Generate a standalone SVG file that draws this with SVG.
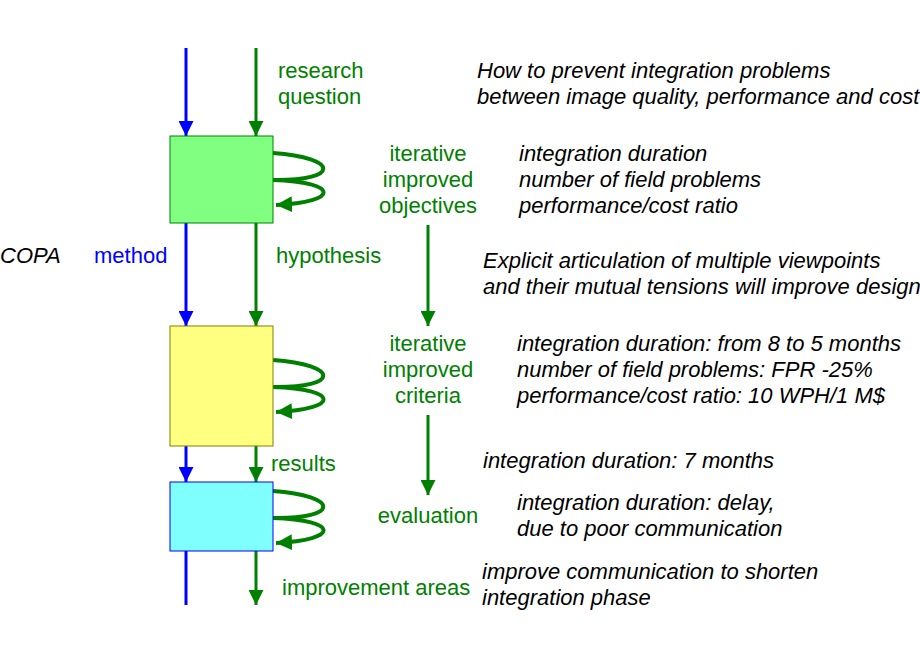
<svg xmlns="http://www.w3.org/2000/svg" width="920" height="660" viewBox="0 0 920 660">
<style>
.b{stroke:#0000ff;stroke-width:3;fill:none}
.g{stroke:#008000;stroke-width:3;fill:none}
.lp{stroke:#008000;stroke-width:4;fill:none}
text{font-family:"Liberation Sans",Arial,sans-serif;font-size:22px}
.it{font-style:italic;fill:#000}
.gt{fill:#008000}
.bt{fill:#0000ff}
</style>
<defs>
<marker id="ab" viewBox="0 0 10 10" refX="10" refY="5" markerWidth="5" markerHeight="5" orient="auto" markerUnits="strokeWidth"><path d="M0,0L10,5L0,10z" fill="#0000ff"/></marker>
<marker id="ag" viewBox="0 0 10 10" refX="10" refY="5" markerWidth="5" markerHeight="5" orient="auto" markerUnits="strokeWidth"><path d="M0,0L10,5L0,10z" fill="#008000"/></marker>
<marker id="al" viewBox="0 0 10 10" refX="10" refY="5" markerWidth="4" markerHeight="4" orient="auto" markerUnits="strokeWidth"><path d="M0,0L10,5L0,10z" fill="#008000"/></marker>
</defs>
<g id="connectors">
<line class="b" x1="186" y1="48" x2="186" y2="136" marker-end="url(#ab)"/>
<line class="g" x1="256" y1="48" x2="256" y2="136" marker-end="url(#ag)"/>
<line class="b" x1="186" y1="223" x2="186" y2="326" marker-end="url(#ab)"/>
<line class="g" x1="256" y1="223" x2="256" y2="326" marker-end="url(#ag)"/>
<line class="b" x1="186" y1="446" x2="186" y2="482" marker-end="url(#ab)"/>
<line class="g" x1="256" y1="446" x2="256" y2="482" marker-end="url(#ag)"/>
<line class="b" x1="186" y1="551" x2="186" y2="605"/>
<line class="g" x1="256" y1="551" x2="256" y2="605" marker-end="url(#ag)"/>
<line class="g" x1="428" y1="225" x2="428" y2="326" marker-end="url(#ag)"/>
<line class="g" x1="428" y1="415" x2="428" y2="495" marker-end="url(#ag)"/>
<path class="lp" d="M273,153 C340,158 340,181 273,180 C340,182 340,202 276,205" marker-end="url(#al)"/>
<path class="lp" d="M273,360 C340,365 340,388 273,387 C340,389 340,409 276,412" marker-end="url(#al)"/>
<path class="lp" d="M273,491 C340,496 340,519 273,518 C340,520 340,540 276,543" marker-end="url(#al)"/>
</g>
<g id="n1"><rect x="170" y="136" width="103" height="87" fill="#80ff80" stroke="#008000"/></g>
<g id="n2"><rect x="170" y="326" width="103" height="120" fill="#ffff80" stroke="#808000"/></g>
<g id="n3"><rect x="170" y="482" width="103" height="69" fill="#80ffff" stroke="#0000ff"/></g>
<g id="labels">
<text class="gt" x="278" y="78">research</text>
<text class="gt" x="278" y="104">question</text>
<text class="it" x="477" y="78">How to prevent integration problems</text>
<text class="it" x="477" y="104">between image quality, performance and cost</text>
<text class="gt" x="428" y="161" text-anchor="middle">iterative</text>
<text class="gt" x="428" y="187" text-anchor="middle">improved</text>
<text class="gt" x="428" y="213" text-anchor="middle">objectives</text>
<text class="it" x="519" y="161">integration duration</text>
<text class="it" x="519" y="187">number of field problems</text>
<text class="it" x="519" y="213">performance/cost ratio</text>
<text class="it" x="0" y="263">COPA</text>
<text class="bt" x="94" y="263">method</text>
<text class="gt" x="276" y="263">hypothesis</text>
<text class="it" x="483" y="268">Explicit articulation of multiple viewpoints</text>
<text class="it" x="483" y="294">and their mutual tensions will improve design</text>
<text class="gt" x="428" y="351" text-anchor="middle">iterative</text>
<text class="gt" x="428" y="377" text-anchor="middle">improved</text>
<text class="gt" x="428" y="403" text-anchor="middle">criteria</text>
<text class="it" x="517" y="351">integration duration: from 8 to 5 months</text>
<text class="it" x="517" y="377">number of field problems: FPR -25%</text>
<text class="it" x="517" y="403">performance/cost ratio: 10 WPH/1 M$</text>
<text class="gt" x="271" y="471">results</text>
<text class="it" x="483" y="468">integration duration: 7 months</text>
<text class="gt" x="428" y="523" text-anchor="middle">evaluation</text>
<text class="it" x="517" y="510">integration duration: delay,</text>
<text class="it" x="517" y="536">due to poor communication</text>
<text class="gt" x="282" y="595">improvement areas</text>
<text class="it" x="482" y="579">improve communication to shorten</text>
<text class="it" x="482" y="605">integration phase</text>
</g>
</svg>
